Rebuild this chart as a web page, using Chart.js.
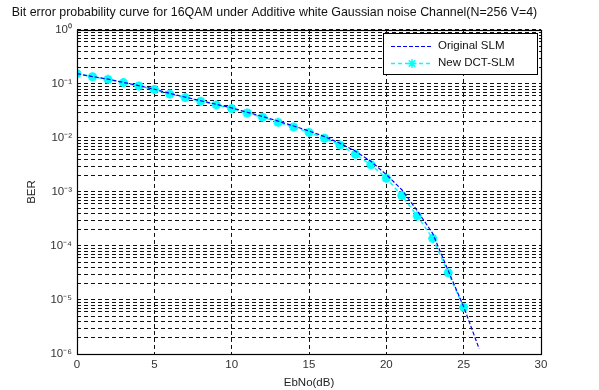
<!DOCTYPE html>
<html>
<head>
<meta charset="utf-8">
<script src="https://cdn.jsdelivr.net/npm/chart.js@4.4.1/dist/chart.umd.min.js"></script>
<style>
  html, body { margin: 0; padding: 0; background: #fff; }
  canvas { display: block; }
</style>
</head>
<body>
<canvas id="berChart" width="599" height="390"></canvas>
<script>
// values
const ebnoOriginal = [0, 1, 2, 3, 4, 5, 6, 7, 8, 9, 10, 11, 12, 13, 14, 15, 16, 17, 18, 19, 20, 21, 22, 23, 24, 25, 26];
const berOriginal = [0.155, 0.137, 0.123, 0.107, 0.093, 0.080, 0.067, 0.057, 0.049, 0.042, 0.036, 0.030, 0.025, 0.0205,
    0.0167, 0.0135, 0.0106, 0.0080, 0.0057, 0.0037, 0.0021, 0.0011, 4.5e-4, 1.7e-4, 3.5e-5, 7.5e-6, 1.25e-6];

const ebnoDct = [0, 1, 2, 3, 4, 5, 6, 7, 8, 9, 10, 11, 12, 13, 14, 15, 16, 17, 18, 19, 20, 21, 22, 23, 24, 25];
const berDct = [0.155, 0.136, 0.122, 0.106, 0.092, 0.079, 0.065, 0.056, 0.048, 0.041, 0.035, 0.029, 0.0242, 0.0195,
    0.016, 0.0127, 0.0099, 0.0074, 0.0050, 0.0032, 0.0018, 8.6e-4, 3.6e-4, 1.38e-4, 3.2e-5, 7.3e-6];

const seriesNames = ['Original SLM', 'New DCT-SLM'];
const xTicks = [0, 5, 10, 15, 20, 25, 30];
const yDecades = [-6, -5, -4, -3, -2, -1, 0];

const FONT = 'Arial, "Liberation Sans", sans-serif';
const SUP = { '-': '\u207B', '0': '\u2070', '1': '\u00B9', '2': '\u00B2', '3': '\u00B3', '4': '\u2074', '5': '\u2075', '6': '\u2076' };

function powLabel(e) {
    return '10' + String(e).split('').map(c => SUP[c]).join('');
}

// all y grid lines: 1..9 x 10^n, MATLAB style
const yTickValues = [];
yDecades.forEach(e => {
    for (let k = 1; k <= 9; k++) {
        if (e === 0 && k > 1) break;
        yTickValues.push(k * Math.pow(10, e));
    }
});

const boxAndLegend = {
    id: 'boxAndLegend',
    afterDatasetsDraw(chart) {
        const ctx = chart.ctx;
        const a = chart.chartArea;
        ctx.save();
        // axes box
        ctx.strokeStyle = '#000';
        ctx.lineWidth = 1.2;
        ctx.setLineDash([]);
        ctx.strokeRect(Math.round(a.left) + 0.5, Math.round(a.top) + 0.5, Math.round(a.right - a.left), Math.round(a.bottom - a.top));

        // legend box in upper right
        const lx = 383.5, ly = 33.5, lw = 154, lh = 41;
        ctx.fillStyle = '#fff';
        ctx.fillRect(lx, ly, lw, lh);
        ctx.lineWidth = 1;
        ctx.strokeRect(lx, ly, lw, lh);

        const ds = chart.data.datasets;
        const rows = [46, 63];
        ctx.font = '11.5px ' + FONT;
        ctx.textBaseline = 'middle';
        rows.forEach((y, i) => {
            ctx.strokeStyle = ds[i].borderColor;
            ctx.lineWidth = ds[i].borderWidth;
            ctx.setLineDash(ds[i].borderDash);
            ctx.beginPath();
            ctx.moveTo(391, y + 0.5);
            ctx.lineTo(433, y + 0.5);
            ctx.stroke();
            if (ds[i].pointRadius > 0) {
                ctx.setLineDash([]);
                ctx.strokeStyle = ds[i].pointBorderColor;
                Chart.helpers.drawPoint(ctx, {
                    pointStyle: ds[i].pointStyle,
                    radius: ds[i].pointRadius,
                    borderWidth: ds[i].pointBorderWidth
                }, 412, y + 0.5);
            }
            ctx.fillStyle = '#111';
            ctx.fillText(ds[i].label, 438, y);
        });
        ctx.restore();
    }
};

const ctx = document.getElementById('berChart').getContext('2d');
new Chart(ctx, {
    type: 'line',
    data: {
        datasets: [{
            label: seriesNames[0],
            data: ebnoOriginal.map((x, i) => ({ x: x, y: berOriginal[i] })),
            borderColor: '#0000ff',
            backgroundColor: '#0000ff',
            borderWidth: 1.2,
            borderDash: [4, 2],
            pointRadius: 0,
            tension: 0
        }, {
            label: seriesNames[1],
            data: ebnoDct.map((x, i) => ({ x: x, y: berDct[i] })),
            borderColor: '#00ffff',
            backgroundColor: '#00ffff',
            borderWidth: 1.5,
            borderDash: [4, 3],
            pointStyle: 'star',
            pointRadius: 4.5,
            pointBorderWidth: 2.8,
            pointBorderColor: '#00ffff',
            tension: 0
        }]
    },
    options: {
        responsive: false,
        animation: false,
        layout: { padding: { left: 8, right: 58, top: 0, bottom: 0 } },
        plugins: {
            legend: { display: false },
            tooltip: { enabled: false },
            title: {
                display: true,
                text: 'Bit error probability curve for 16QAM under Additive white Gaussian noise Channel(N=256 V=4)',
                color: '#111',
                font: { family: FONT, size: 12.4, weight: 'normal' },
                padding: { top: 5, bottom: 10.1 }
            }
        },
        scales: {
            x: {
                type: 'linear',
                min: 0,
                max: 30,
                afterBuildTicks: (s) => { s.ticks = xTicks.map(v => ({ value: v })); },
                ticks: { color: '#333', font: { family: FONT, size: 11.5 }, padding: 4 },
                grid: { color: '#111', lineWidth: 1, drawTicks: false },
                border: { display: false, dash: [4, 3] },
                title: { display: true, text: 'EbNo(dB)', color: '#222', font: { family: FONT, size: 11.5 }, padding: { top: 0, bottom: 0 } },
                afterFit: (s) => { s.height = 36; }
            },
            y: {
                type: 'logarithmic',
                min: 1e-6,
                max: 1,
                afterBuildTicks: (s) => { s.ticks = yTickValues.map(v => ({ value: v })); },
                ticks: {
                    color: '#333',
                    font: { family: FONT, size: 11.5 },
                    padding: 5,
                    autoSkip: false,
                    callback: (v) => {
                        const e = Math.round(Math.log10(v));
                        return Math.abs(v - Math.pow(10, e)) < 1e-12 ? powLabel(e) : '';
                    }
                },
                grid: { color: '#111', lineWidth: 1, drawTicks: false },
                border: { display: false, dash: [4, 3] },
                title: { display: true, text: 'BER', color: '#222', font: { family: FONT, size: 11.5 }, padding: { top: 17, bottom: 0 } },
                afterFit: (s) => { s.width = 69; }
            }
        }
    },
    plugins: [boxAndLegend]
});
</script>
</body>
</html>
